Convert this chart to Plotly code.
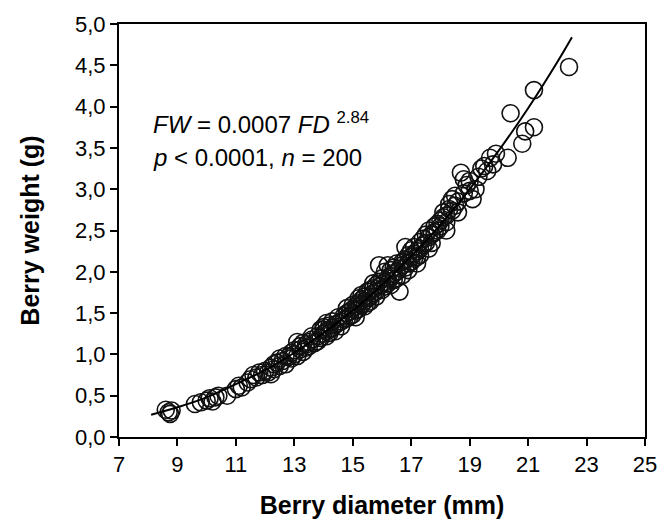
import plotly.graph_objects as go

# Observed berries: diameter (mm) and weight (g)
diam = [
    8.6, 8.7, 8.8, 8.75,
    9.6, 9.8, 10.0, 10.1, 10.2, 10.3, 10.4,
    10.7, 11.0, 11.1, 11.2, 11.4, 11.5,
    11.7, 11.8, 11.9, 12.0, 12.1, 12.2, 12.3, 12.3, 12.4, 12.5, 12.5,
    12.6, 12.7, 12.8, 12.9, 13.0, 13.0, 13.1, 13.2, 13.2, 13.3, 13.4, 13.4, 13.5, 13.5, 13.6, 12.2, 12.9, 13.3,
    13.7, 13.8, 13.8, 13.9, 14.0, 14.0, 14.0, 14.1, 14.1, 14.2, 14.2, 14.3, 14.3, 14.4, 14.4, 14.5, 14.5, 13.9, 14.2, 14.6,
    14.7, 14.7, 14.8, 14.8, 14.9, 14.9, 15.0, 15.0, 15.0, 15.1, 15.1, 15.2, 15.2, 15.3, 15.3, 15.3, 15.4, 15.4, 15.5, 15.5, 15.5, 14.6, 15.2, 15.4,
    15.6, 15.6, 15.7, 15.7, 15.8, 15.8, 15.8, 15.9, 15.9, 16.0, 16.0, 16.0, 16.1, 16.1, 16.2, 16.2, 16.2, 16.3, 16.3, 16.4, 16.4, 16.5, 16.5, 16.5, 16.6, 16.6, 15.9, 16.3,
    16.7, 16.7, 16.8, 16.8, 16.9, 16.9, 17.0, 17.0, 17.0, 17.1, 17.1, 17.2, 17.2, 17.3, 17.3, 17.4, 17.4, 17.5, 17.5, 16.8, 17.2,
    17.6, 17.6, 17.7, 17.8, 17.8, 17.9, 18.0, 18.0, 18.1, 18.1, 18.2, 18.2, 18.3, 18.3, 18.4, 18.4, 18.5, 18.5, 17.7, 18.6,
    18.6, 18.7, 18.8, 18.9, 19.0, 19.0, 19.2, 19.3, 19.4, 19.5, 19.6, 19.7, 19.8, 19.9,
    20.3, 20.4, 20.8, 20.9, 21.2, 21.2, 22.4,
    13.6, 14.1, 14.8, 15.1, 15.6, 15.7, 16.1, 16.4, 16.7, 16.9, 17.1, 17.3, 17.6, 17.9, 18.2, 18.8, 19.1, 12.7, 13.1, 11.6,
]
weight = [
    0.33, 0.30, 0.32, 0.28,
    0.40, 0.42, 0.44, 0.47, 0.43, 0.48, 0.50,
    0.50, 0.58, 0.62, 0.60, 0.66, 0.70,
    0.72, 0.78, 0.75, 0.80, 0.78, 0.84, 0.82, 0.88, 0.90, 0.86, 0.95,
    0.92, 0.88, 0.97, 0.95, 1.00, 1.05, 0.98, 1.06, 1.10, 1.03, 1.12, 1.08, 1.15, 1.10, 1.18, 0.76, 1.02, 1.14,
    1.14, 1.22, 1.16, 1.20, 1.25, 1.30, 1.33, 1.28, 1.22, 1.35, 1.30, 1.32, 1.40, 1.36, 1.28, 1.38, 1.45, 1.30, 1.26, 1.40,
    1.47, 1.42, 1.50, 1.44, 1.52, 1.46, 1.55, 1.48, 1.60, 1.53, 1.58, 1.62, 1.55, 1.60, 1.66, 1.72, 1.64, 1.70, 1.68, 1.62, 1.76, 1.34, 1.68, 1.58,
    1.70, 1.78, 1.74, 1.80, 1.76, 1.84, 1.70, 1.82, 1.88, 1.85, 1.92, 1.78, 1.88, 2.00, 1.92, 1.86, 2.08, 1.95, 2.02, 1.98, 2.05, 2.00, 2.10, 1.92, 2.04, 1.76, 2.08, 1.84,
    2.08, 2.12, 2.05, 2.15, 2.10, 2.20, 2.18, 2.26, 2.12, 2.22, 2.30, 2.25, 2.18, 2.28, 2.36, 2.32, 2.40, 2.35, 2.45, 2.30, 2.10,
    2.42, 2.50, 2.45, 2.55, 2.48, 2.58, 2.62, 2.55, 2.66, 2.72, 2.68, 2.60, 2.76, 2.82, 2.74, 2.88, 2.80, 2.92, 2.35, 2.72,
    2.85, 3.20, 2.95, 3.05, 2.98, 3.10, 3.00, 3.15, 3.25, 3.28, 3.22, 3.38, 3.30, 3.43,
    3.38, 3.92, 3.55, 3.70, 3.75, 4.20, 4.48,
    1.22, 1.38, 1.56, 1.45, 1.64, 1.86, 1.82, 1.90, 1.96, 2.02, 2.16, 2.20, 2.28, 2.50, 2.50, 3.12, 2.88, 0.98, 1.15, 0.75,
]

# Fitted power curve as drawn (FW = 0.0007 FD^2.84)
fit_x = [8.1, 9, 10, 11, 12, 13, 14, 15, 16, 17, 18, 19, 20, 21, 22, 22.5]
fit_y = [0.27, 0.36, 0.48, 0.64, 0.81, 1.02, 1.26, 1.53, 1.84, 2.19, 2.57, 3.00, 3.47, 3.98, 4.54, 4.84]

x_ticks = [7, 9, 11, 13, 15, 17, 19, 21, 23, 25]
y_ticks = [0.0, 0.5, 1.0, 1.5, 2.0, 2.5, 3.0, 3.5, 4.0, 4.5, 5.0]

font_family = "Liberation Sans, Arial, sans-serif"

fig = go.Figure()
fig.add_trace(go.Scatter(
    x=diam, y=weight, mode="markers",
    marker=dict(symbol="circle-open", size=17, color="#111111", line=dict(width=1.6)),
    showlegend=False,
))
fig.add_trace(go.Scatter(
    x=fit_x, y=fit_y, mode="lines",
    line=dict(color="black", width=2, shape="spline"),
    showlegend=False,
))

fig.add_annotation(
    x=8.1, y=3.80, xref="x", yref="y", xanchor="left", yanchor="middle", showarrow=False,
    text="<i>FW</i> = 0.0007 <i>FD</i> <sup>2.84</sup>",
    font=dict(family=font_family, size=24, color="black"),
)
fig.add_annotation(
    x=8.1, y=3.38, xref="x", yref="y", xanchor="left", yanchor="middle", showarrow=False,
    text="<i>p</i> &lt; 0.0001, <i>n</i> = 200",
    font=dict(family=font_family, size=24, color="black"),
)

axis_common = dict(
    showgrid=False, zeroline=False, showline=True, linecolor="black", linewidth=2,
    mirror=True, ticks="outside", ticklen=7, tickwidth=1.5, tickcolor="black",
    tickfont=dict(family=font_family, size=22, color="black"),
)

fig.update_xaxes(
    range=[7, 25], tickvals=x_ticks, ticktext=[str(v) for v in x_ticks],
    title=dict(text="<b>Berry diameter (mm)</b>", font=dict(family=font_family, size=25, color="black"), standoff=20),
    **axis_common,
)
fig.update_yaxes(
    range=[0, 5], tickvals=y_ticks, tickformat=".1f",
    title=dict(text="<b>Berry weight (g)</b>", font=dict(family=font_family, size=25, color="black"), standoff=28),
    **axis_common,
)

fig.update_layout(
    width=669, height=527,
    margin=dict(l=119, r=15, t=22, b=89),
    plot_bgcolor="white", paper_bgcolor="white",
    separators=",.",
)

fig.write_html("out.html", config={"displayModeBar": False},
               post_script="document.body.style.margin='0';")
